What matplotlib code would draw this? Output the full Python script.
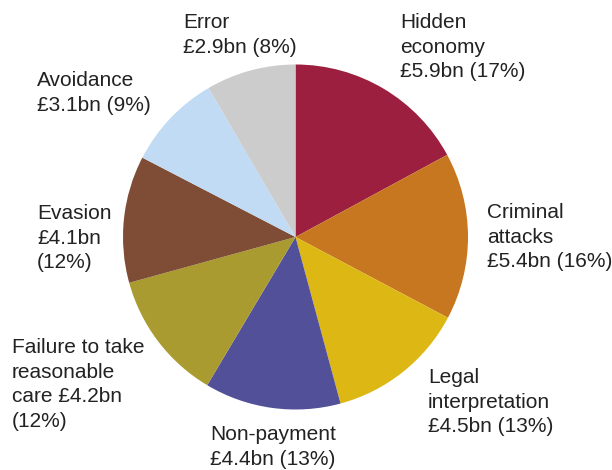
import matplotlib
matplotlib.use('Agg')
import matplotlib.pyplot as plt

# Tax gap components, £bn
names=['Hidden economy','Criminal attacks','Legal interpretation','Non-payment',
       'Failure to take reasonable care','Evasion','Avoidance','Error']
values=[5.9,5.4,4.5,4.4,4.2,4.1,3.1,2.9]
shares=[17,16,13,13,12,12,9,8]
labels=['Hidden\neconomy\n£5.9bn (17%)',
        'Criminal\nattacks\n£5.4bn (16%)',
        'Legal\ninterpretation\n£4.5bn (13%)',
        'Non-payment\n£4.4bn (13%)',
        'Failure to take\nreasonable\ncare £4.2bn\n(12%)',
        'Evasion\n£4.1bn\n(12%)',
        'Avoidance\n£3.1bn (9%)',
        'Error\n£2.9bn (8%)']
colours=['#9c1f3f','#c7771f','#ddb815','#525098',
         '#a99b30','#7f4c35','#c0dbf3','#cccccc']

W,H=612,470
fig=plt.figure(figsize=(W/100,H/100),dpi=100,facecolor='white')
ax=fig.add_axes([0,0,1,1])
ax.set_aspect('equal')
ax.axis('off')

ax.pie(values,colors=colours,startangle=90,counterclock=False,
       center=(295.5,H-237),radius=172.5,
       wedgeprops={'linewidth':0})
ax.set_xlim(0,W)
ax.set_ylim(0,H)

# label anchor: left x, top y (pixel rows from the top)
label_pos=[(400,13),(487,203),(428,368),(210,425),
           (12,338),(37,204),(37,71),(183,13)]
for lab,(x,y) in zip(labels,label_pos):
    ax.text(x,H-y,lab,ha='left',va='top',fontsize=15,
            family='Liberation Sans',color='#222222',linespacing=1.38)

fig.savefig('out.png',dpi=100)
